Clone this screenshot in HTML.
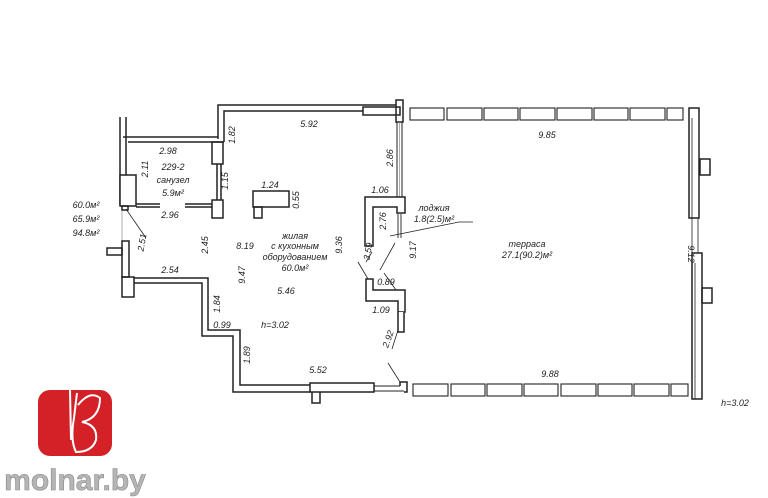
<!DOCTYPE html>
<html><head><meta charset="utf-8"><style>
html,body{margin:0;padding:0;background:#fff;width:768px;height:498px;overflow:hidden}
svg{display:block}
text{font-family:"Liberation Sans",sans-serif;font-style:italic;font-size:9px;fill:#222;text-anchor:middle}
</style></head><body>
<svg width="768" height="498" viewBox="0 0 768 498" xmlns="http://www.w3.org/2000/svg">
<g fill="none" stroke="#222" stroke-width="1.5">
<path d="M218,139 L218,105 L396,105 M224,142 L224,111 L363,111"/>
<path d="M123,137 L218,137 M128,142 L224,142"/>
<path d="M120,117 L120,205 M126,117 L126,175"/>
<rect x="120" y="175" width="16" height="31" fill="#fff"/>
<rect x="212" y="142" width="11" height="22"/>
<rect x="212" y="200" width="11" height="18"/>
<path d="M136,204 L160,204 M136,207 L160,207 M185,204 L212,204 M185,207 L212,207"/>
<path d="M217,164 L217,200 M221,164 L221,200"/>
<path d="M122,206 L122,241" stroke="#999" stroke-width="0.8"/>
<rect x="122" y="206" width="6" height="4"/>
<rect x="122" y="241" width="7" height="36"/>
<rect x="107" y="248" width="15" height="7"/>
<rect x="122" y="277" width="12" height="20"/>
<path d="M134,278 L208,278 L208,330 L240,330 L240,385 L310,385"/>
<path d="M134,283 L202,283 L202,336 L233,336 L233,392 L310,392"/>
<rect x="310" y="383" width="64" height="9" fill="#fff"/>
<path d="M312,392 L312,403 L320,403 L320,392"/>
<path d="M374,386 L400,386 M374,391 L404,391" stroke-width="1"/>
<path d="M400,382 L407,382 L407,392 L404,392 M400,382 L400,386"/>
<rect x="363" y="107" width="37" height="8" fill="#fff"/>
<rect x="396" y="100" width="7" height="22"/>
<path d="M397,122 L397,197 M402,122 L402,197" stroke-width="1"/>
<path d="M399.5,122 L399.5,197" stroke="#888" stroke-width="0.7"/>
<path d="M365,197 L405,197 L405,213 L397,213 L397,207 L373,207 L373,246 L365,246 Z" fill="#fff"/>
<path d="M398,214 L398,238 M401,214 L401,238" stroke-width="0.9"/>
<path d="M366,279 L373,279 L373,290 L405,290 L405,312 L398,312 L398,301 L366,301 Z" fill="#fff"/>
<path d="M398,312 L398,332 L404,332 L404,312" fill="#fff"/>
<g stroke-width="1.1">
<rect x="410" y="108" width="34" height="12"/><rect x="447" y="108" width="35" height="12"/>
<rect x="484" y="108" width="34" height="12"/><rect x="520" y="108" width="35" height="12"/>
<rect x="557" y="108" width="35" height="12"/><rect x="594" y="108" width="34" height="12"/>
<rect x="630" y="108" width="35" height="12"/><rect x="667" y="108" width="16" height="12"/>
<rect x="413" y="384" width="35" height="12"/><rect x="451" y="384" width="34" height="12"/>
<rect x="487" y="384" width="35" height="12"/><rect x="524" y="384" width="34" height="12"/>
<rect x="561" y="384" width="35" height="12"/><rect x="598" y="384" width="34" height="12"/>
<rect x="634" y="384" width="35" height="12"/><rect x="671" y="384" width="17" height="12"/>
</g>
<rect x="689" y="108" width="10" height="110"/>
<path d="M692,118 L692,218" stroke-width="0.8"/>
<path d="M692,218 L692,253 M698,218 L698,253" stroke-width="0.8"/>
<rect x="692" y="253" width="10" height="146"/>
<path d="M695,263 L695,399" stroke-width="0.8"/>
<rect x="700" y="159" width="10" height="16"/>
<rect x="702" y="288" width="10" height="15"/>
<rect x="253" y="191" width="36" height="16"/>
<rect x="254" y="207" width="8" height="11"/>
<g stroke-width="0.8">
<path d="M126,209 L146,238"/>
<path d="M372,252 L366,262 M358,262 L368,279"/>
<path d="M395,243 L380,270 M384,273 L396,290"/>
<path d="M392,349 L398,330 M388,363 L400,382"/>
<path d="M390,236 L459,222 L473,222"/>
</g>
</g>
<g>
<text x="309" y="127">5.92</text>
<text x="168" y="154">2.98</text>
<text x="173" y="170">229-2</text>
<text x="173" y="183">санузел</text>
<text x="173" y="196">5.9м²</text>
<text x="170" y="218">2.96</text>
<text x="270" y="188">1.24</text>
<text x="86" y="208" font-size="10">60.0м²</text>
<text x="86" y="222" font-size="10">65.9м²</text>
<text x="86" y="236" font-size="10">94.8м²</text>
<text x="245" y="249">8.19</text>
<text x="295" y="239">жилая</text>
<text x="295" y="249">с кухонным</text>
<text x="295" y="260">оборудованием</text>
<text x="295" y="271">60.0м²</text>
<text x="380" y="193">1.06</text>
<text x="434" y="211">лоджия</text>
<text x="434" y="222">1.8(2.5)м²</text>
<text x="527" y="247">терраса</text>
<text x="527" y="258">27.1(90.2)м²</text>
<text x="547" y="138">9.85</text>
<text x="550" y="377">9.88</text>
<text x="735" y="406" font-size="10">h=3.02</text>
<text x="170" y="273">2.54</text>
<text x="286" y="294">5.46</text>
<text x="386" y="285">0.89</text>
<text x="381" y="313">1.09</text>
<text x="222" y="328">0.99</text>
<text x="275" y="328">h=3.02</text>
<text x="318" y="373">5.52</text>
<text transform="translate(235,135) rotate(-90)">1.82</text>
<text transform="translate(148,169) rotate(-90)">2.11</text>
<text transform="translate(228,181) rotate(-90)">1.15</text>
<text transform="translate(299,200) rotate(-90)">0.55</text>
<text transform="translate(145,243) rotate(-80)">2.51</text>
<text transform="translate(208,245) rotate(-90)">2.45</text>
<text transform="translate(342,245) rotate(-90)">9.36</text>
<text transform="translate(371,252) rotate(-80)">3.59</text>
<text transform="translate(393,158) rotate(-90)">2.86</text>
<text transform="translate(386,221) rotate(-90)">2.76</text>
<text transform="translate(416,250) rotate(-90)">9.17</text>
<text transform="translate(688,254) rotate(90)">9.12</text>
<text transform="translate(245,275) rotate(-90)">9.47</text>
<text transform="translate(220,304) rotate(-90)">1.84</text>
<text transform="translate(391,340) rotate(-70)">2.92</text>
<text transform="translate(250,355) rotate(-90)">1.89</text>
</g>
<rect x="38" y="390" width="74" height="66" rx="12" fill="#d42027"/>
<path d="M70,390 L71,440 M77,393 L74,418 Q70,440 76,452 Q92,452 96,440 Q98,425 82,422 Q100,418 100,398 Q90,390 78,405" fill="none" stroke="#fff" stroke-width="2"/>
<text x="75" y="490" style="font-style:normal;font-weight:bold;font-size:30px;fill:#b5b5b5;stroke:#8a8a8a;stroke-width:0.6">molnar.by</text>
</svg>
</body></html>
